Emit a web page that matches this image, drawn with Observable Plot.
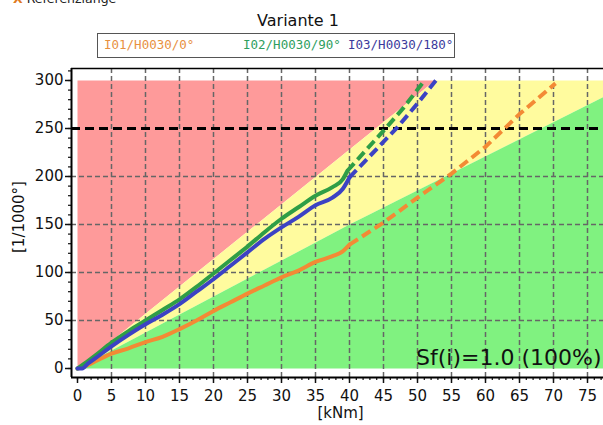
<!DOCTYPE html>
<html>
<head>
<meta charset="utf-8">
<script src="https://cdn.jsdelivr.net/npm/d3@7"></script>
<script src="https://cdn.jsdelivr.net/npm/@observablehq/plot@0.6"></script>
<style>
  html, body { margin: 0; padding: 0; background: #fff; overflow: hidden; }
  #wrap { position: relative; width: 603px; height: 425px; }
  #wrap svg { position: absolute; left: 0; top: 0; }
  .ov { position: absolute; white-space: nowrap; }
  #ref { left: 13px; top: -9px; font: 12.5px "DejaVu Sans", sans-serif; color: #222; }
  #ref b { color: #e07a20; margin-right: 4px; }
  #title { left: 0; width: 596px; top: 11px; text-align: center; font: 16px "DejaVu Sans", sans-serif; color: #111; }
  #legend { left: 97px; top: 33px; width: 358px; height: 25px; border: 1px solid #555; box-sizing: border-box; font: 12.5px "DejaVu Sans Mono", monospace; }
  #legend span { position: absolute; top: 3px; }
</style>
</head>
<body>
<div id="wrap">
  <div class="ov" id="title">Variante 1</div>
  <div class="ov" id="legend"></div>
  <div class="ov" id="ref"><b>X</b>Referenzlänge</div>
</div>
<script>
// ---- data ----
const seriesNames = ["I01/H0030/0°", "I02/H0030/90°", "I03/H0030/180°"];
const seriesColors = ["#f38a35", "#2f9e46", "#3c42c4"];
const legendColors = ["#e8903f", "#2e9e5e", "#3a3a9c"];

// I01 (orange)
const i01SolidX = [0, 1, 2.5, 5, 7.5, 10, 12.5, 15, 17.5, 20, 22.5, 25, 27.5, 30, 32.5, 35, 37.5, 39, 40];
const i01SolidY = [0, 2, 7, 15.5, 21, 27.5, 33, 41, 50, 60, 69, 78, 86.5, 95, 102, 111, 117, 122, 129];
const i01DashX = [40, 45, 50, 55, 60, 65, 70.3];
const i01DashY = [129, 152, 178, 203, 231, 265, 297];

// I02 (green)
const i02SolidX = [0, 1, 2.5, 5, 7.5, 10, 12.5, 15, 17.5, 20, 22.5, 25, 27.5, 30, 32.5, 35, 37.5, 39, 39.7];
const i02SolidY = [0, 5, 13, 27, 39, 50, 61, 72, 85, 99, 113, 127, 142, 156, 168, 180, 189, 197, 206];
const i02DashX = [39.7, 42.5, 45.3, 48, 50.8];
const i02DashY = [206, 228, 250, 272, 298];

// I03 (blue)
const i03SolidX = [0, 0.7, 1.5, 2.5, 5, 7.5, 10, 12.5, 15, 17.5, 20, 22.5, 25, 27.5, 30, 32.5, 35, 37.5, 39, 40];
const i03SolidY = [0, 0, 5, 10, 23, 35, 46, 56, 67, 80, 93, 107, 121, 135, 147, 158, 170, 178, 187, 199];
const i03DashX = [40, 43.5, 47, 50, 52.8];
const i03DashY = [199, 225, 251, 276, 301];

// zone polygons (vertices)
const redZoneX = [0, 0, 52.6];
const redZoneY = [0, 300, 300];
const yellowZoneX = [0, 52.6, 77.4, 77.4, 40];
const yellowZoneY = [0, 300, 300, 283, 150];
const greenZoneX = [0, 40, 77.4, 77.4];
const greenZoneY = [0, 150, 283, 0];

const xTicks = d3.range(0, 76, 5);
const xMinor = d3.range(0, 78, 1);
const yTicks = d3.range(0, 301, 50);
const yMinor = d3.range(0, 311, 10);
const limitLine = [250];

// ---- build ----
const pts = (xs, ys) => xs.map((x, i) => ({x, y: ys[i]}));
const xDom = [-0.882, 77.353];
const yDom = [-9.375, 312.5];

const legend = document.getElementById("legend");
const legendX = [6, 145, 250];
seriesNames.forEach((n, i) => {
  const s = document.createElement("span");
  s.textContent = n;
  s.style.left = legendX[i] + "px";
  s.style.color = legendColors[i];
  legend.appendChild(s);
});

const gridStyle = {stroke: "#666", strokeDasharray: "5,3", strokeWidth: 1.5};

const chart = Plot.plot({
  width: 603,
  height: 425,
  marginTop: 68,
  marginBottom: 48,
  marginLeft: 71,
  marginRight: 0,
  style: {fontFamily: "DejaVu Sans", fontSize: "15px", background: "transparent", color: "#111"},
  x: {domain: xDom, axis: null},
  y: {domain: yDom, axis: null},
  marks: [
    Plot.line(pts(redZoneX, redZoneY), {x: "x", y: "y", fill: "#fe9a9a", stroke: "none"}),
    Plot.line(pts(yellowZoneX, yellowZoneY), {x: "x", y: "y", fill: "#fffb9e", stroke: "none"}),
    Plot.line(pts(greenZoneX, greenZoneY), {x: "x", y: "y", fill: "#80f280", stroke: "none"}),
    Plot.ruleX(xTicks.filter(d => d > 0), gridStyle),
    Plot.ruleY(yTicks.filter(d => d > 0 && d < 300 && d !== 250), gridStyle),
    Plot.ruleY(limitLine, {stroke: "#000", strokeWidth: 3, strokeDasharray: "9,5"}),
    Plot.line(pts(i01SolidX, i01SolidY), {x: "x", y: "y", stroke: seriesColors[0], strokeWidth: 4, curve: "monotone-x"}),
    Plot.line(pts(i01DashX, i01DashY), {x: "x", y: "y", stroke: seriesColors[0], strokeWidth: 4, strokeDasharray: "10,5", strokeLinecap: "butt"}),
    Plot.line(pts(i02SolidX, i02SolidY), {x: "x", y: "y", stroke: seriesColors[1], strokeWidth: 4, curve: "monotone-x"}),
    Plot.line(pts(i02DashX, i02DashY), {x: "x", y: "y", stroke: seriesColors[1], strokeWidth: 4, strokeDasharray: "10,5", strokeLinecap: "butt"}),
    Plot.line(pts(i03SolidX, i03SolidY), {x: "x", y: "y", stroke: seriesColors[2], strokeWidth: 4, curve: "monotone-x"}),
    Plot.line(pts(i03DashX, i03DashY), {x: "x", y: "y", stroke: seriesColors[2], strokeWidth: 4, strokeDasharray: "10,5", strokeLinecap: "butt"}),
    // axes
    Plot.axisY({ticks: yTicks, tickSize: 6, tickPadding: 2, strokeWidth: 1.5, fontSize: 15, label: null}),
    Plot.axisY({ticks: yMinor, tickSize: 3, text: null, strokeWidth: 1.2, label: null}),
    Plot.axisX({ticks: xTicks, tickSize: 6, tickPadding: 7, strokeWidth: 1.5, fontSize: 15, label: null}),
    Plot.axisX({ticks: xMinor, tickSize: 3, text: null, strokeWidth: 1.2, label: null}),
    Plot.ruleX([xDom[0]], {stroke: "#000", strokeWidth: 2}),
    Plot.ruleY([yDom[0]], {stroke: "#000", strokeWidth: 2}),
    Plot.ruleY([yDom[1]], {stroke: "#000", strokeWidth: 1.5}),
    Plot.text(["[kNm]"], {frameAnchor: "bottom", dy: 40, dx: 3, fontSize: 15, fill: "#111"}),
    Plot.text(["[1/1000°]"], {frameAnchor: "left", dx: -52, dy: 30, rotate: -90, fontSize: 15, fill: "#111"}),
    Plot.text(["Sf(i)=1.0 (100%)"], {frameAnchor: "bottom-right", textAnchor: "end", dx: -2, dy: -13, fontSize: 22, fill: "#111"})
  ]
});
document.getElementById("wrap").prepend(chart);
</script>
</body>
</html>
